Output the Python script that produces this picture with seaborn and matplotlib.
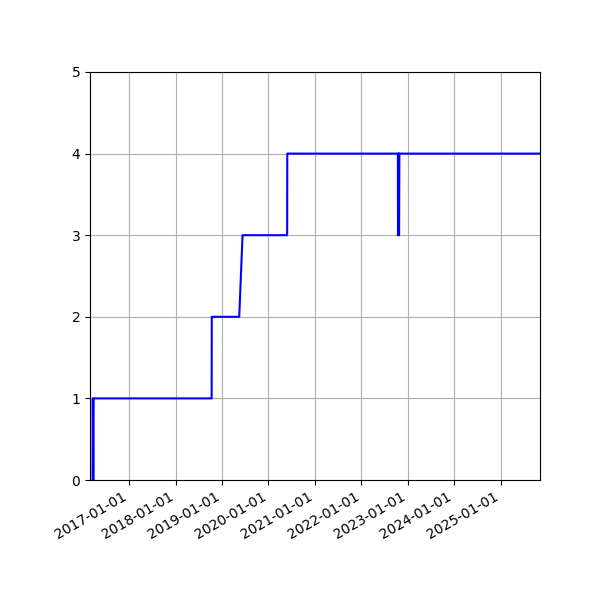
import matplotlib
matplotlib.use("Agg")
import matplotlib.pyplot as plt
import matplotlib.dates as mdates
import seaborn as sns
import pandas as pd

# data
dates = [
    "2016-03-18", "2016-03-20", "2016-03-24", "2016-03-27",
    "2018-10-11", "2018-10-12",
    "2019-05-16", "2019-06-11",
    "2020-05-27", "2020-05-28",
    "2022-10-15", "2022-10-16", "2022-10-19", "2022-10-20", "2022-10-23",
    "2022-10-24", "2022-10-27",
    "2025-11-06",
]
values = [0, 1, 0, 1,
          1, 2,
          2, 3,
          3, 4,
          4, 3, 4, 3, 4,
          3, 4,
          4]
x_start = "2016-02-27"
x_end = "2025-11-06"

df = pd.DataFrame({"date": pd.to_datetime(dates), "value": values})

fig = plt.figure(figsize=(6, 6), dpi=100)
ax = fig.add_axes([0.15, 0.2, 0.75, 0.68])
sns.lineplot(data=df, x="date", y="value", ax=ax, color="blue",
             linewidth=1.5, estimator=None, sort=False)

ax.set_xlim(pd.Timestamp(x_start), pd.Timestamp(x_end))
ax.set_ylim(0, 5)
ax.set_yticks(range(6))
ax.xaxis.set_major_locator(mdates.YearLocator())
ax.xaxis.set_major_formatter(mdates.DateFormatter("%Y-%m-%d"))
ax.set_xlabel("")
ax.set_ylabel("")
ax.grid(True)
for lbl in ax.get_xticklabels():
    lbl.set_rotation(30)
    lbl.set_ha("right")

fig.savefig("out.png", dpi=100)
plt.close(fig)
